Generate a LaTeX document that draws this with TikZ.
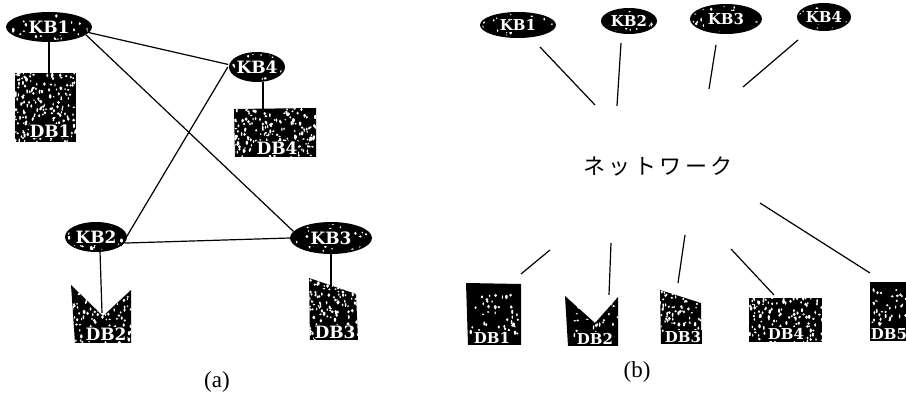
\documentclass[tikz,border=0pt]{standalone}
\usepackage{fontspec}
\setmainfont{Liberation Serif}
\newfontfamily\labfont{DejaVu Serif}
\newfontfamily\jpfont{Noto Sans CJK JP}
\usetikzlibrary{shapes.geometric}
\tikzset{
  link/.style={line width=1.2pt,black},
  kbtext/.style={ellipse,inner sep=0pt,text=white,font=\labfont\bfseries\fontsize{#1}{#1}\selectfont},
  dbtext/.style={inner sep=1pt,fill=black,text=white,font=\labfont\bfseries\fontsize{#1}{#1}\selectfont},
  captext/.style={font=\fontsize{23}{23}\selectfont},
}
% white speckle inside the box x0,y0 .. x1,y1 (current clip applies)
\newcommand{\speckle}[5]{%
  \foreach \i in {1,...,#5}{%
    \pgfmathsetmacro{\px}{(#1)+rnd*((#3)-(#1))}%
    \pgfmathsetmacro{\py}{(#2)+rnd*((#4)-(#2))}%
    \pgfmathsetmacro{\pa}{0.7+rnd*0.8}%
    \pgfmathsetmacro{\pb}{0.7+rnd*1.5}%
    \fill[white] (\px,\py) ellipse ({\pa} and {\pb});
  }%
}
% name, x, y, rx, ry, label, font size, dots
\newcommand{\kbnode}[8]{%
  \fill[black] (#2,#3) ellipse ({#4} and {#5});
  \begin{scope}
    \clip (#2,#3) ellipse ({#4-2} and {#5-2});
    \speckle{#2-#4}{#3-#5}{#2+#4}{#3+#5}{#8}
  \end{scope}
  \fill[black] ({#2-1.3*#7},{#3-0.5*#7}) rectangle ({#2+1.3*#7},{#3+0.5*#7});
  \node[kbtext=#7,minimum width=2*#4 pt,minimum height=2*#5 pt] (#1) at (#2,#3) {#6};
}
% name, polygon path, x0,y0,x1,y1 box, dots, label x, label y, label, attach point, font size
\newcommand{\dbnode}[9]{%
  \fill[black] #2;
  \begin{scope}
    \clip #2;
    \speckle#3{#4}
  \end{scope}
  \node[dbtext=#9] (#1) at (#5,#6) {#7};
  \coordinate (#1top) at (#8);
}
\begin{document}
\begin{tikzpicture}[x=1pt,y=-1pt]
\useasboundingbox (0,0) rectangle (906,398);
\pgfmathsetseed{4242}
% ---- (a)
\kbnode{aKBa}{49}{27}{43}{15}{KB1}{17}{45}
\kbnode{aKBd}{257}{67}{28}{15}{KB4}{17}{30}
\kbnode{aKBb}{96}{237}{31}{15}{KB2}{17}{30}
\kbnode{aKBc}{331}{238}{41}{16}{KB3}{17}{50}
\dbnode{aDBa}{(15,73) -- (76,73) -- (76,142) -- (15,142) -- cycle}{{15}{73}{76}{142}}{190}{50}{131}{DB1}{50,74}{17}
\dbnode{aDBd}{(234,109) -- (316,108) -- (316,157) -- (235,157) -- cycle}{{234}{108}{316}{157}}{190}{277}{148}{DB4}{263,109}{17}
\dbnode{aDBb}{(71,285) -- (103,316) -- (131,290) -- (131,343) -- (75,343) -- cycle}{{71}{285}{131}{343}}{120}{106}{334}{DB2}{102,313}{17}
\dbnode{aDBc}{(309,278) -- (356,294) -- (358,340) -- (310,340) -- cycle}{{309}{278}{358}{340}}{130}{335}{332}{DB3}{331,286}{17}
\draw[link] (aKBa.south) -- (aKBa.south |- aDBatop);
\draw[link] (aKBa.-8) -- (aKBd.175);
\draw[link] (aKBa.-12) -- (aKBc.170);
\draw[link] (aKBd.180) -- (aKBb.-20);
\draw[link] (aKBb.-12) -- (aKBc.180);
\draw[link] (aDBdtop |- aKBd.south) -- (aDBdtop);
\draw[link] (aKBb.-75) -- (aDBbtop);
\draw[link] (aKBc.south) -- (aDBctop);
\node[captext] (capa) at (217,382) {(a)};
% ---- (b)
\kbnode{bKBa}{518}{25}{38}{13}{KB1}{15}{30}
\kbnode{bKBb}{629}{21}{28}{13}{KB2}{15}{22}
\kbnode{bKBc}{726}{19}{36}{15}{KB3}{15}{35}
\kbnode{bKBd}{824}{17}{27}{14}{KB4}{15}{20}
\dbnode{bDBa}{(466,283) -- (521,284) -- (521,345) -- (468,345) -- cycle}{{470}{295}{518}{335}}{45}{492}{338}{DB1}{521,274}{15}
\dbnode{bDBb}{(565,296) -- (595,323) -- (618,297) -- (618,346) -- (568,346) -- cycle}{{568}{296}{618}{340}}{40}{595}{339}{DB2}{609,295}{15}
\dbnode{bDBc}{(660,290) -- (701,303) -- (701,344) -- (661,344) -- cycle}{{660}{290}{701}{332}}{75}{683}{337}{DB3}{678,283}{15}
\dbnode{bDBd}{(749,298) -- (822,298) -- (822,342) -- (749,342) -- cycle}{{749}{298}{822}{342}}{130}{786}{334}{DB4}{774,295}{15}
\dbnode{bDBe}{(870,282) -- (906,282) -- (906,341) -- (870,341) -- cycle}{{872}{288}{906}{325}}{40}{889}{334}{DB5}{870,273}{15}
\node[font=\jpfont\fontsize{22}{22}\selectfont] (net) at (658,166) {ネ\hspace{3.5pt}ッ\hspace{3.5pt}ト\hspace{3.5pt}ワ\hspace{3.5pt}ー\hspace{3.5pt}ク};
\coordinate (na) at (595,105);
\coordinate (nb) at (617,106);
\coordinate (nc) at (709,89);
\coordinate (nd) at (743,87);
\coordinate (ne) at (760,203);
\coordinate (nf) at (550,250);
\coordinate (ng) at (611,243);
\coordinate (nh) at (685,235);
\coordinate (ni) at (731,249);
\coordinate (sa) at (540,47);
\coordinate (sb) at (621,43);
\coordinate (sc) at (716,45);
\coordinate (sd) at (798,40);
\draw[link] (sa) -- (na);
\draw[link] (sb) -- (nb);
\draw[link] (sc) -- (nc);
\draw[link] (sd) -- (nd);
\draw[link] (ne) -- (bDBetop);
\draw[link] (nf) -- (bDBatop);
\draw[link] (ng) -- (bDBbtop);
\draw[link] (nh) -- (bDBctop);
\draw[link] (ni) -- (bDBdtop);
\node[captext] (capb) at (637,372) {(b)};
\end{tikzpicture}
\end{document}
